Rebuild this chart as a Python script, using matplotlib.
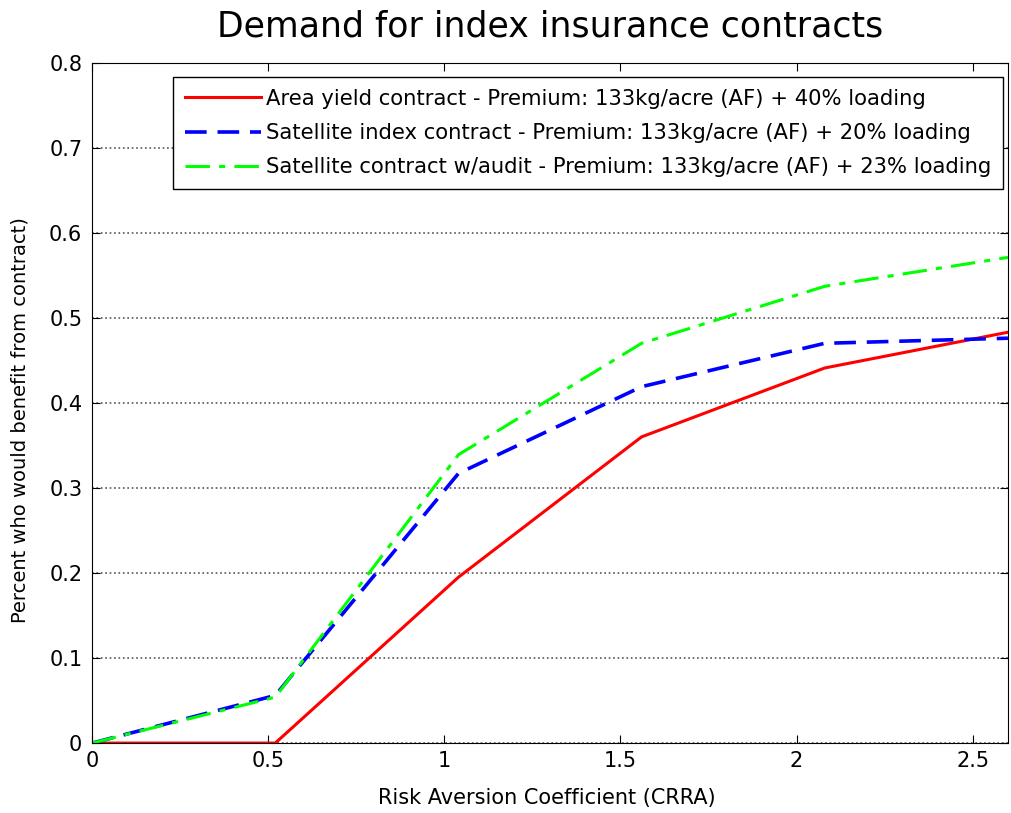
import matplotlib
matplotlib.use("Agg")
import matplotlib.pyplot as plt

crra = [0, 0.52, 1.04, 1.56, 2.08, 2.6]
area_yield = [0, 0.0, 0.195, 0.36, 0.441, 0.483]
satellite = [0, 0.056, 0.317, 0.419, 0.47, 0.476]
satellite_audit = [0, 0.054, 0.339, 0.47, 0.537, 0.571]

labels = [
    "Area yield contract - Premium: 133kg/acre (AF) + 40% loading",
    "Satellite index contract - Premium: 133kg/acre (AF) + 20% loading",
    "Satellite contract w/audit - Premium: 133kg/acre (AF) + 23% loading",
]

plt.rcParams['font.family'] = ['DejaVu Sans']

fig = plt.figure(figsize=(10.12, 8.13), dpi=100)
ax = fig.add_axes([0.091, 0.086, 0.905, 0.837])

ax.plot(crra, area_yield, '-', color='#ff0000', lw=2.2, label=labels[0])
ax.plot(crra, satellite, '--', color='#0000ff', lw=2.6, dashes=(6, 3), label=labels[1])
ax.plot(crra, satellite_audit, '-.', color='#00ff00', lw=2.2, dashes=(8, 3, 2, 3), label=labels[2])

ax.set_xlim(0, 2.6)
ax.set_ylim(0, 0.8)
ax.set_xticks([0, 0.5, 1, 1.5, 2, 2.5])
ax.set_xticklabels(['0', '0.5', '1', '1.5', '2', '2.5'])
ax.set_yticks([0, 0.1, 0.2, 0.3, 0.4, 0.5, 0.6, 0.7, 0.8])
ax.set_yticklabels(['0', '0.1', '0.2', '0.3', '0.4', '0.5', '0.6', '0.7', '0.8'])
ax.yaxis.grid(True, linestyle=':', color='#555555', lw=1.2)
ax.tick_params(direction='in', top=True, right=True, labelsize=15, length=6)
ax.tick_params(axis='y', pad=7)
ax.tick_params(axis='x', pad=6)

ax.set_title("Demand for index insurance contracts", fontsize=25, pad=19)
ax.set_xlabel("Risk Aversion Coefficient (CRRA)", fontsize=15)
ax.set_ylabel("Percent who would benefit from contract)", fontsize=14)
ax.xaxis.set_label_coords(0.496, -0.066)
ax.yaxis.set_label_coords(-0.068, 0.474)

ax.legend(loc='upper right', fontsize=15.2, frameon=True, fancybox=False,
          edgecolor='black', framealpha=1, handlelength=3.6,
          handletextpad=0.25, borderpad=0.56, labelspacing=0.68,
          borderaxespad=0, bbox_to_anchor=(0.9945, 0.979))

fig.savefig("out.png", dpi=100)
